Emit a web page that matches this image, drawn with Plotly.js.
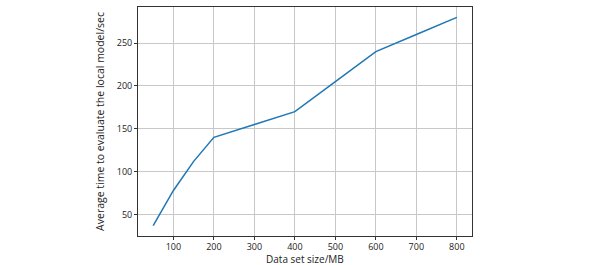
<!DOCTYPE html>
<html><head><meta charset="utf-8">
<script src="https://cdn.plot.ly/plotly-3.0.1.min.js"></script>
<style>html,body{margin:0;padding:0;background:#fff;}</style>
</head><body><div id="chart" style="width:600px;height:265px;"></div>
<script>
const sizesMB = [50, 100, 150, 200, 300, 400, 500, 600, 700, 800];
const avgTimeSec = [37, 78, 112, 140, 155, 170, 205, 240, 260, 280];
const xTicks = [100, 200, 300, 400, 500, 600, 700, 800];
const yTicks = [50, 100, 150, 200, 250];
const xTitle = 'Data set size/MB';
const yTitle = 'Average time to evaluate the local model/sec';

const fam = '"Open Sans", "DejaVu Sans", sans-serif';
Plotly.newPlot('chart', [{
  x: sizesMB, y: avgTimeSec, type: 'scatter', mode: 'lines',
  line: {color: '#1f77b4', width: 1.5}
}], {
  width: 600, height: 265,
  margin: {l: 138, r: 128, t: 7, b: 29},
  paper_bgcolor: '#fff', plot_bgcolor: '#fff',
  showlegend: false,
  font: {family: fam, color: '#222', size: 9},
  xaxis: {
    range: [12.5, 837.5], tickvals: xTicks, ticktext: xTicks.map(String),
    showgrid: true, gridcolor: '#c8c8c8', gridwidth: 1,
    showline: true, linecolor: '#333', linewidth: 1, mirror: true,
    ticks: 'outside', ticklen: 2.5, tickcolor: '#333', zeroline: false,
    automargin: false
  },
  yaxis: {
    range: [24.85, 292.15], tickvals: yTicks, ticktext: yTicks.map(String),
    showgrid: true, gridcolor: '#c8c8c8', gridwidth: 1,
    showline: true, linecolor: '#333', linewidth: 1, mirror: true,
    ticks: 'outside', ticklen: 3, tickcolor: '#333', zeroline: false,
    automargin: false,
    title: {text: yTitle, font: {family: fam, size: 10.5, color: '#222'}, standoff: 10}
  },
  annotations: [{
    text: xTitle, xref: 'paper', yref: 'paper', x: 0.5, y: -0.1004,
    xanchor: 'center', yanchor: 'middle', showarrow: false, borderpad: 0,
    font: {family: fam, size: 10, color: '#222'}
  }]
}, {staticPlot: true, displayModeBar: false});
</script></body></html>
